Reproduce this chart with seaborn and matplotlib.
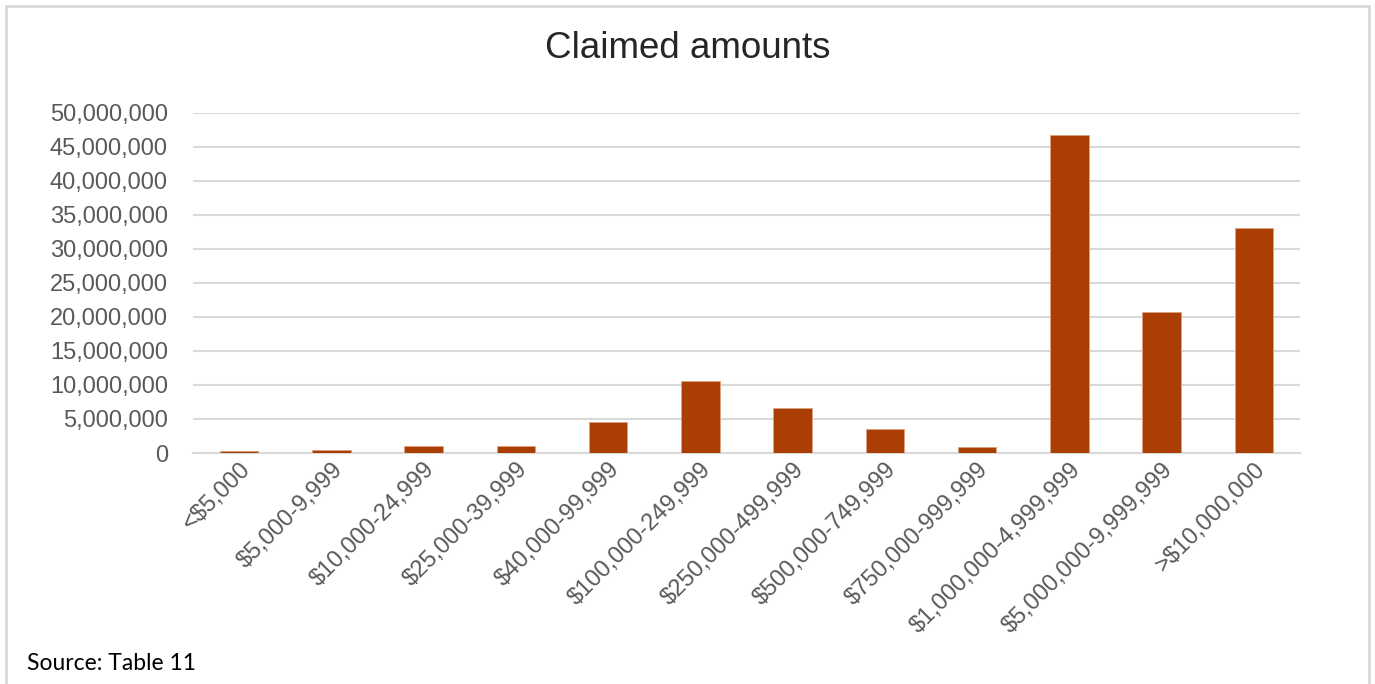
import numpy as np
import pandas as pd
import matplotlib
matplotlib.use('Agg')
import matplotlib.pyplot as plt
import seaborn as sns
from matplotlib.ticker import FuncFormatter
from matplotlib.patches import Rectangle

# Claimed amount bands and their totals
bands = ['<$5,000', '$5,000-9,999', '$10,000-24,999', '$25,000-39,999',
         '$40,000-99,999', '$100,000-249,999', '$250,000-499,999',
         '$500,000-749,999', '$750,000-999,999', '$1,000,000-4,999,999',
         '$5,000,000-9,999,999', '>$10,000,000']
claimed = [250000, 400000, 1000000, 1100000, 4550000, 10600000, 6650000,
           3600000, 900000, 46800000, 20700000, 33150000]

y_ticks = list(range(0, 50000001, 5000000))

df = pd.DataFrame({'band': bands, 'claimed': claimed})

sns.set_theme(style='white')
plt.rcParams['font.family'] = ['Liberation Sans', 'DejaVu Sans']

fig = plt.figure(figsize=(13.75, 6.84), dpi=100)
ax = fig.add_axes([193 / 1375, 1 - 453 / 684, (1300 - 193) / 1375, (453 - 113) / 684])

sns.barplot(data=df, x='band', y='claimed', color='#ab3e04', width=0.42,
            saturation=1, edgecolor='#d9a27f', linewidth=0.6, ax=ax, zorder=3)

ax.set_ylim(0, 50000000)
ax.set_yticks(y_ticks)
ax.yaxis.set_major_formatter(FuncFormatter(lambda v, p: f'{int(v):,}'))
ax.grid(axis='y', color='#d9d9d9', linewidth=1.5, zorder=0)
ax.set_axisbelow(True)
for s in ['top', 'right', 'left']:
    ax.spines[s].set_visible(False)
ax.spines['bottom'].set_color('#d9d9d9')
ax.spines['bottom'].set_linewidth(1.5)

ax.tick_params(axis='y', labelsize=17, labelcolor='#595959', length=0, pad=18)
ax.tick_params(axis='x', labelsize=17, labelcolor='#595959', length=0, pad=4)
plt.setp(ax.get_xticklabels(), rotation=45, ha='right', rotation_mode='anchor')
ax.set_xlabel(None)
ax.set_ylabel(None)

fig.text(0.5, 1 - 48 / 684, 'Claimed amounts', ha='center', va='center',
         fontsize=26.5, color='#262626')
fig.text(27 / 1375, 1 - 664 / 684, 'Source: Table 11', ha='left', va='center',
         fontsize=16.5, color='#000000', family=['Lato', 'DejaVu Sans'])

# light frame round the chart
fig.patches.append(Rectangle((6 / 1375, -0.01), 1363 / 1375, 1 - 6 / 684 + 0.01,
                             transform=fig.transFigure, fill=False,
                             edgecolor='#d9d9d9', linewidth=2))

fig.savefig('out.png', dpi=100)
